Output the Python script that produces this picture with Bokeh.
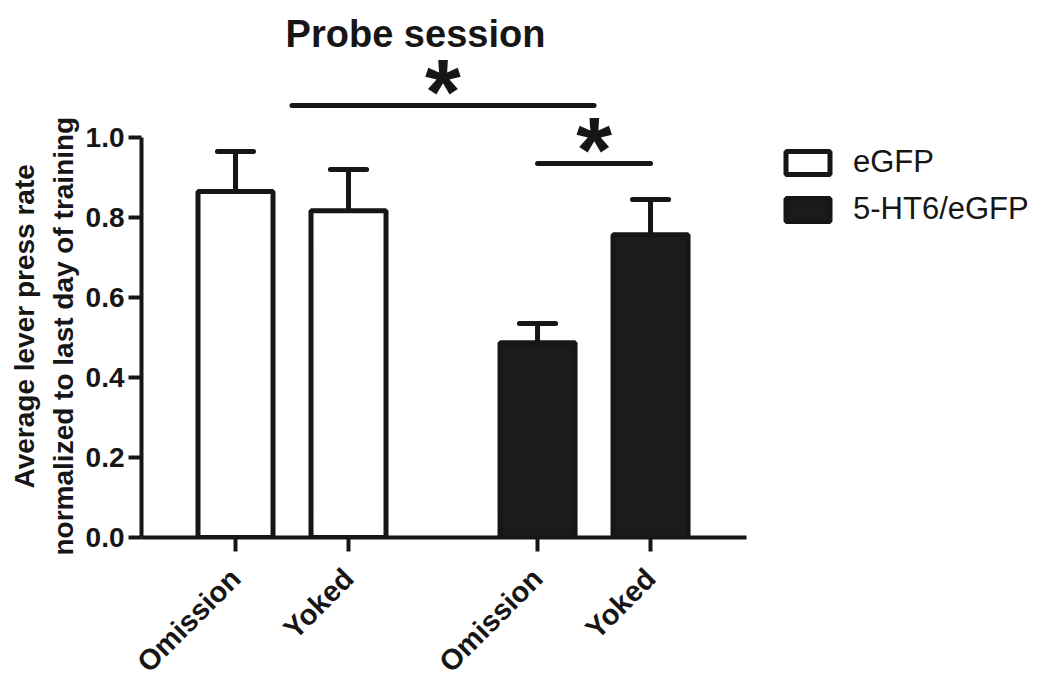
from bokeh.plotting import figure
from bokeh.models import (Range1d, FixedTicker, Legend, LegendItem, ColumnDataSource,
                          NumeralTickFormatter, Label, Title)
from bokeh.core.properties import value
from bokeh.embed import file_html
from bokeh.resources import INLINE
from math import pi

# ---------------- data ----------------
title = "Probe session"
groups = ["eGFP", "5-HT6/eGFP"]
conditions = ["Omission", "Yoked"]
egfp_mean = [0.865, 0.817]
egfp_sem = [0.100, 0.103]
ht6_mean = [0.487, 0.757]
ht6_sem = [0.048, 0.088]
y_ticks = [0.0, 0.2, 0.4, 0.6, 0.8, 1.0]
y_label_lines = ["Average lever press rate", "normalized to last day of training"]
sig_marks = ["*", "*"]

# ---------------- layout ----------------
INK = "#161616"
FONT = "Liberation Sans"
gap = 0.673
bar_w = 0.664
cap_half = 0.16

x_e = [round(i, 3) for i in range(len(conditions))]
x_h = [round(len(conditions) + gap + i, 3) for i in range(len(conditions))]

p = figure(width=1042, height=693, x_range=Range1d(-0.832, 7.142), y_range=Range1d(0, 1.3425),
           output_backend="svg", toolbar_location=None,
           min_border_left=141, min_border_right=0, min_border_top=0, min_border_bottom=156)
p.xgrid.visible = False
p.ygrid.visible = False
p.outline_line_color = None
p.background_fill_color = "white"

src_e = ColumnDataSource(dict(x=x_e, top=egfp_mean,
                              up=[m + s for m, s in zip(egfp_mean, egfp_sem)],
                              c0=[x - cap_half for x in x_e], c1=[x + cap_half for x in x_e]))
src_h = ColumnDataSource(dict(x=x_h, top=ht6_mean,
                              up=[m + s for m, s in zip(ht6_mean, ht6_sem)],
                              c0=[x - cap_half for x in x_h], c1=[x + cap_half for x in x_h]))

for src in (src_e, src_h):
    p.segment(x0="x", y0="top", x1="x", y1="up", source=src, line_color=INK, line_width=5)
    p.segment(x0="c0", y0="up", x1="c1", y1="up", source=src, line_color=INK, line_width=5,
              line_cap="round")

r_e = p.vbar(x="x", top="top", bottom=0, width=bar_w, source=src_e,
             fill_color="white", line_color=INK, line_width=5)
r_h = p.vbar(x="x", top="top", bottom=0, width=bar_w, source=src_h,
             fill_color="#1b1b1b", line_color=INK, line_width=5)

# significance bars
g0_mid = sum(x_e) / len(x_e)
g1_mid = sum(x_h) / len(x_h)
sig_src = ColumnDataSource(dict(x0=[g0_mid, x_h[0]], x1=[g1_mid, x_h[1]], y=[1.08, 0.935]))
p.segment(x0="x0", y0="y", x1="x1", y1="y", source=sig_src, line_color=INK, line_width=5,
          line_cap="round")
p.text(x=[(g0_mid + g1_mid) / 2, (x_h[0] + x_h[1]) / 2], y=[1.08, 0.935], text=sig_marks,
       text_font=value(FONT), text_font_style="bold", text_font_size="92px",
       text_align="center", text_baseline="alphabetic", y_offset=-14, text_color=INK)

p.add_layout(Label(x=1.593, y=1.26, text=title, text_align="center", text_baseline="middle",
                   text_font=FONT, text_font_style="bold", text_font_size="38px",
                   text_color=INK))

# axes
for ax in (p.xaxis[0], p.yaxis[0]):
    ax.axis_line_width = 4
    ax.axis_line_color = INK
    ax.major_tick_line_width = 4
    ax.major_tick_line_color = INK
    ax.major_tick_in = 0
    ax.minor_tick_line_color = None
    ax.major_label_text_font = FONT
    ax.major_label_text_font_style = "bold"
    ax.major_label_text_color = INK

xa = p.xaxis[0]
xa.ticker = FixedTicker(ticks=x_e + x_h)
xa.major_label_overrides = {x: c for x, c in zip(x_e + x_h, conditions + conditions)}
xa.major_label_orientation = pi / 4
xa.major_label_text_font_size = "29px"
xa.major_tick_out = 14
xa.major_label_standoff = 22
xa.bounds = (-0.832, 4.522)

ya = p.yaxis[0]
ya.ticker = FixedTicker(ticks=y_ticks)
ya.formatter = NumeralTickFormatter(format="0.0")
ya.bounds = (0, 1)
ya.major_tick_out = 13
ya.major_label_standoff = 4
ya.major_label_text_font_size = "28px"

# y-axis title: two vertical lines to the left of the axis (inner line first)
for txt, off, so in zip(reversed(y_label_lines), [-18, 49], [7, 5]):
    p.add_layout(Title(text=txt, align="left", offset=off, standoff=so,
                       text_font=FONT, text_font_style="bold", text_font_size="28px",
                       text_color=INK), "left")

legend = Legend(items=[LegendItem(label=groups[0], renderers=[r_e]),
                       LegendItem(label=groups[1], renderers=[r_h])],
                location=(639, 310), glyph_width=55, glyph_height=29,
                label_text_font=FONT, label_text_font_size="31px", label_text_color=INK,
                label_height=29, padding=0, margin=0, spacing=11, label_standoff=18,
                border_line_color=None, background_fill_alpha=0)
p.add_layout(legend)

open("out.html", "w").write(file_html(p, INLINE))
